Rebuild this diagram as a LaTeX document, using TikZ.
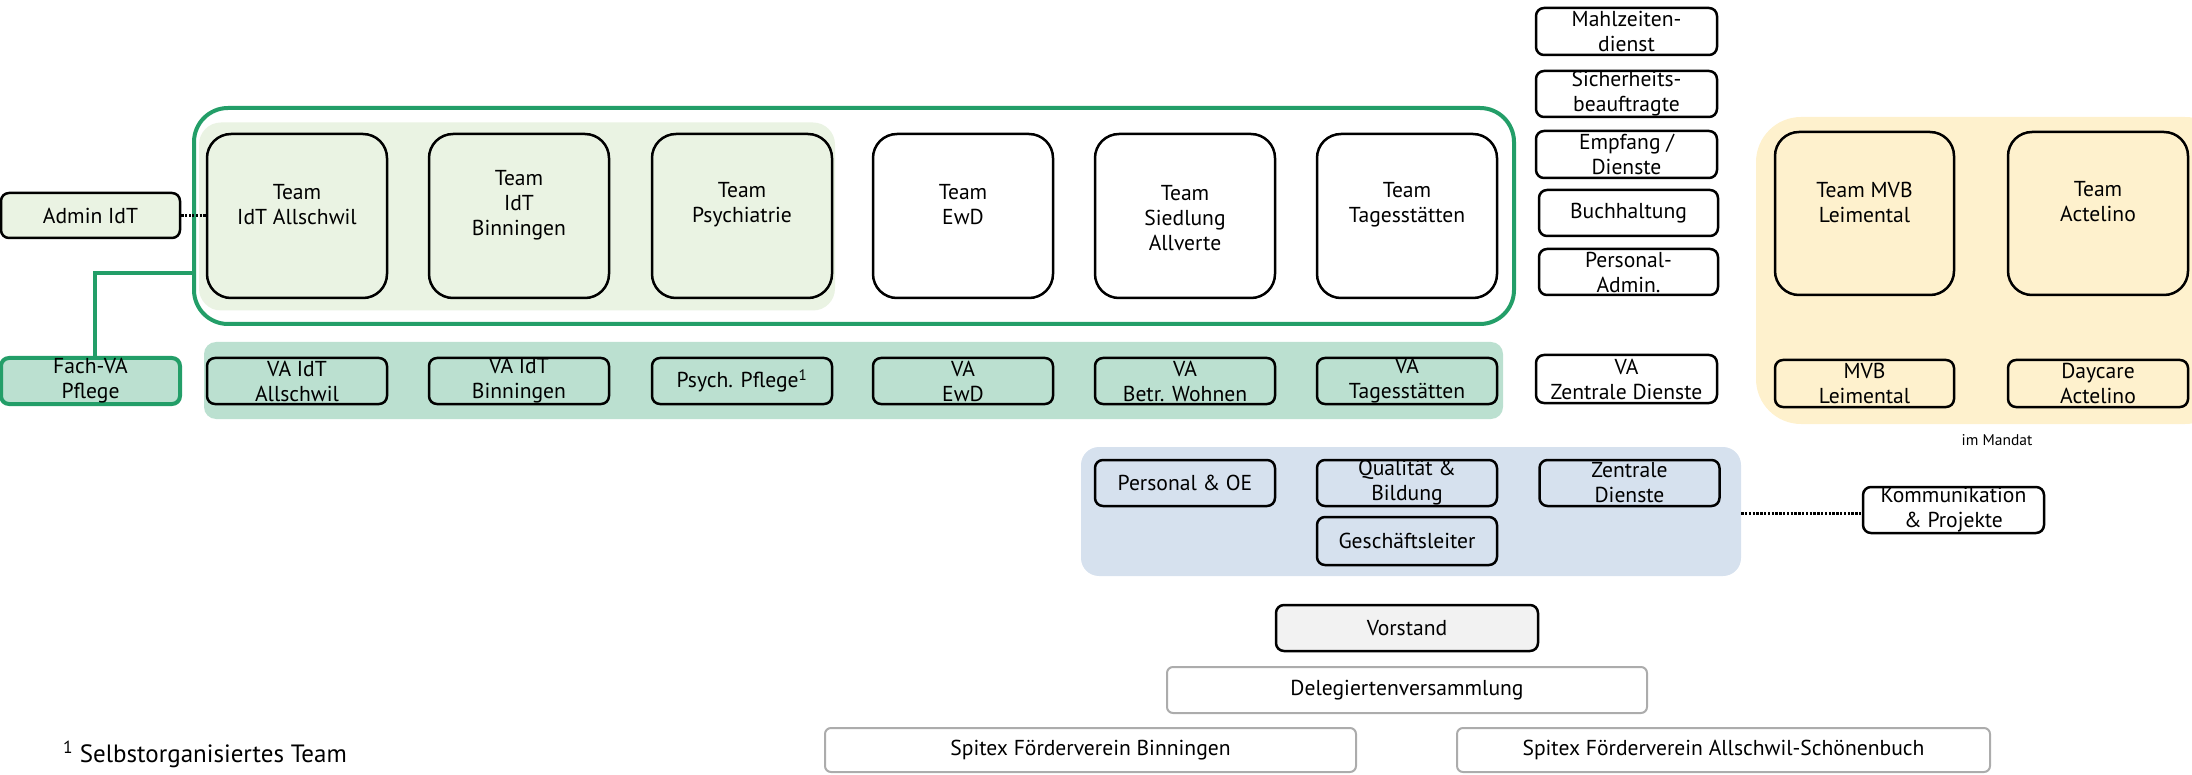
\documentclass[tikz,border=0pt]{standalone}
\usepackage{fontspec}
\setmainfont{PT Sans}
\definecolor{grn}{RGB}{35,158,104}
\definecolor{lgrn}{RGB}{234,243,227}
\definecolor{mint}{RGB}{187,224,208}
\definecolor{org}{RGB}{254,241,205}
\definecolor{blu}{RGB}{214,225,238}
\definecolor{vgray}{RGB}{242,242,242}
\definecolor{bgray}{RGB}{172,172,172}
\tikzset{
  txt/.style={font=\fontsize{21.6}{25}\selectfont, align=center, inner sep=0pt, text=black},
  sbox/.style={txt, draw=black, line width=2.5pt, rounded corners=8pt, minimum width=180pt, minimum height=46pt},
  tbox/.style={draw=black, line width=2.5pt, rounded corners=24pt, minimum width=180pt, minimum height=164pt, inner sep=0pt},
  gbox/.style={txt, draw=bgray, line width=2pt, rounded corners=6pt, fill=white, minimum height=46pt},
  panel/.style={inner sep=0pt, draw=none},
  dotline/.style={line width=3pt, dash pattern=on 2.4pt off 1.4pt},
}
\begin{document}
\begin{tikzpicture}[x=1pt,y=-1pt]
\useasboundingbox (0,0) rectangle (2192,775);
% admin dotted link (under the green frame)
\node[sbox, fill=lgrn, minimum width=179pt, minimum height=45pt] (adm) at (90.5,215.5) {Admin IdT};
\coordinate (ae) at (207,215.5);
\draw[dotline] (adm.east) -- (ae);
% green group
\node[panel, draw=grn, line width=4pt, fill=white, rounded corners=34pt, minimum width=1320pt, minimum height=216pt] (grp) at (854,216) {};
\node[panel, fill=lgrn, rounded corners=22pt, minimum width=636pt, minimum height=188pt] (ipan) at (517,216.5) {};
\draw[dotline] (grp.west |- ae) -- (ae);
% team boxes
\node[tbox, fill=lgrn] (t1) at (297,216) {};
\node[tbox, fill=lgrn] (t2) at (519,216) {};
\node[tbox, fill=lgrn] (t3) at (742,216) {};
\node[tbox, fill=white] (t4) at (963,216) {};
\node[tbox, fill=white] (t5) at (1185,216) {};
\node[tbox, fill=white] (t6) at (1407,216) {};
\node[txt] (t1l) at (297,205) {Team\\IdT Allschwil};
\node[txt] (t2l) at (519,205) {Team\\IdT\\Binningen};
\node[txt] (t3l) at (742,205) {Team\\Psychiatrie};
\node[txt] (t4l) at (963,205) {Team\\EwD};
\node[txt] (t5l) at (1185,218) {Team\\Siedlung\\Allverte};
\node[txt] (t6l) at (1407,205) {Team\\Tagesstätten};
% mint row
\node[panel, fill=mint, rounded corners=12pt, minimum width=1299pt, minimum height=77pt] (mpan) at (853.5,380.5) {};
\node[sbox, fill=mint] (va1) at (297,381) {VA IdT\\Allschwil};
\node[sbox, fill=mint] (va2) at (519,381) {VA IdT\\Binningen};
\node[sbox, fill=mint] (va3) at (742,381) {Psych. Pflege\textsuperscript{1}};
\node[sbox, fill=mint] (va4) at (963,381) {VA\\EwD};
\node[sbox, fill=mint] (va5) at (1185,381) {VA\\Betr. Wohnen};
\node[sbox, fill=mint] (va6) at (1407,381) {VA\\Tagesstätten};
\node[sbox, fill=mint, draw=grn, line width=4pt, minimum width=179pt] (fva) at (90.5,381) {Fach-VA\\Pflege};
\coordinate (gc) at (95,273);
\draw[grn, line width=4pt] (gc -| grp.west) -- (gc) -- (gc |- fva.north);
% right column
\node[sbox, fill=white, minimum width=181pt, minimum height=47pt] (r1) at (1626.5,31.5) {Mahlzeiten-\\dienst};
\node[sbox, fill=white, minimum width=181pt, minimum height=46pt] (r2) at (1626.5,94) {Sicherheits-\\beauftragte};
\node[sbox, fill=white, minimum width=181pt, minimum height=47pt] (r3) at (1626.5,154.5) {Empfang /\\Dienste};
\node[sbox, fill=white, minimum width=179pt] (r4) at (1628.5,213) {Buchhaltung};
\node[sbox, fill=white, minimum width=179pt] (r5) at (1628.5,272) {Personal-\\Admin.};
\node[sbox, fill=white, minimum width=181pt, minimum height=48pt] (r6) at (1626.5,379) {VA\\Zentrale Dienste};
% orange panel
\node[panel, fill=org, rounded corners=45pt, minimum width=474pt, minimum height=307pt] (opan) at (1993,270.5) {};
\node[tbox, fill=org, minimum width=179pt, minimum height=163pt] (m1) at (1864.5,213.5) {};
\node[tbox, fill=org, minimum width=180pt, minimum height=163pt] (m2) at (2098,213.5) {};
\node[txt] (m1l) at (1864.5,202) {Team MVB\\Leimental};
\node[txt] (m2l) at (2098,202) {Team\\Actelino};
\node[sbox, fill=org, minimum width=179pt, minimum height=47pt] (m3) at (1864.5,383.5) {MVB\\Leimental};
\node[sbox, fill=org, minimum width=180pt, minimum height=47pt] (m4) at (2098,383.5) {Daycare\\Actelino};
\node[txt, font=\fontsize{15.5}{18}\selectfont] (mand) at (1997,440) {im Mandat};
% blue panel
\node[panel, fill=blu, rounded corners=18pt, minimum width=660pt, minimum height=129pt] (bpan) at (1411,511.5) {};
\node[sbox, fill=blu] (b1) at (1185,483) {Personal \& OE};
\node[sbox, fill=blu] (b2) at (1407,483) {Qualität \&\\Bildung};
\node[sbox, fill=blu] (b3) at (1629.5,483) {Zentrale\\Dienste};
\node[sbox, fill=blu, minimum height=48pt] (b4) at (1407,541) {Geschäftsleiter};
\node[sbox, fill=white, minimum width=181pt] (kom) at (1953.5,510) {Kommunikation\\\& Projekte};
\coordinate (kd) at (1863,513);
\draw[dotline] (bpan.east |- kd) -- (kd);
% bottom
\node[sbox, fill=vgray, minimum width=262pt] (vor) at (1407,628) {Vorstand};
\node[gbox, minimum width=480pt] (del) at (1407,690) {Delegiertenversammlung};
\node[gbox, minimum width=531pt, minimum height=44pt] (sfb) at (1090.5,750) {Spitex Förderverein Binningen};
\node[gbox, minimum width=533pt, minimum height=44pt] (sfa) at (1723.5,750) {Spitex Förderverein Allschwil-Schönenbuch};
\node[txt, anchor=west, font=\fontsize{25}{28}\selectfont] (fn) at (63,754) {\textsuperscript{1} Selbstorganisiertes Team};
\end{tikzpicture}
\end{document}
